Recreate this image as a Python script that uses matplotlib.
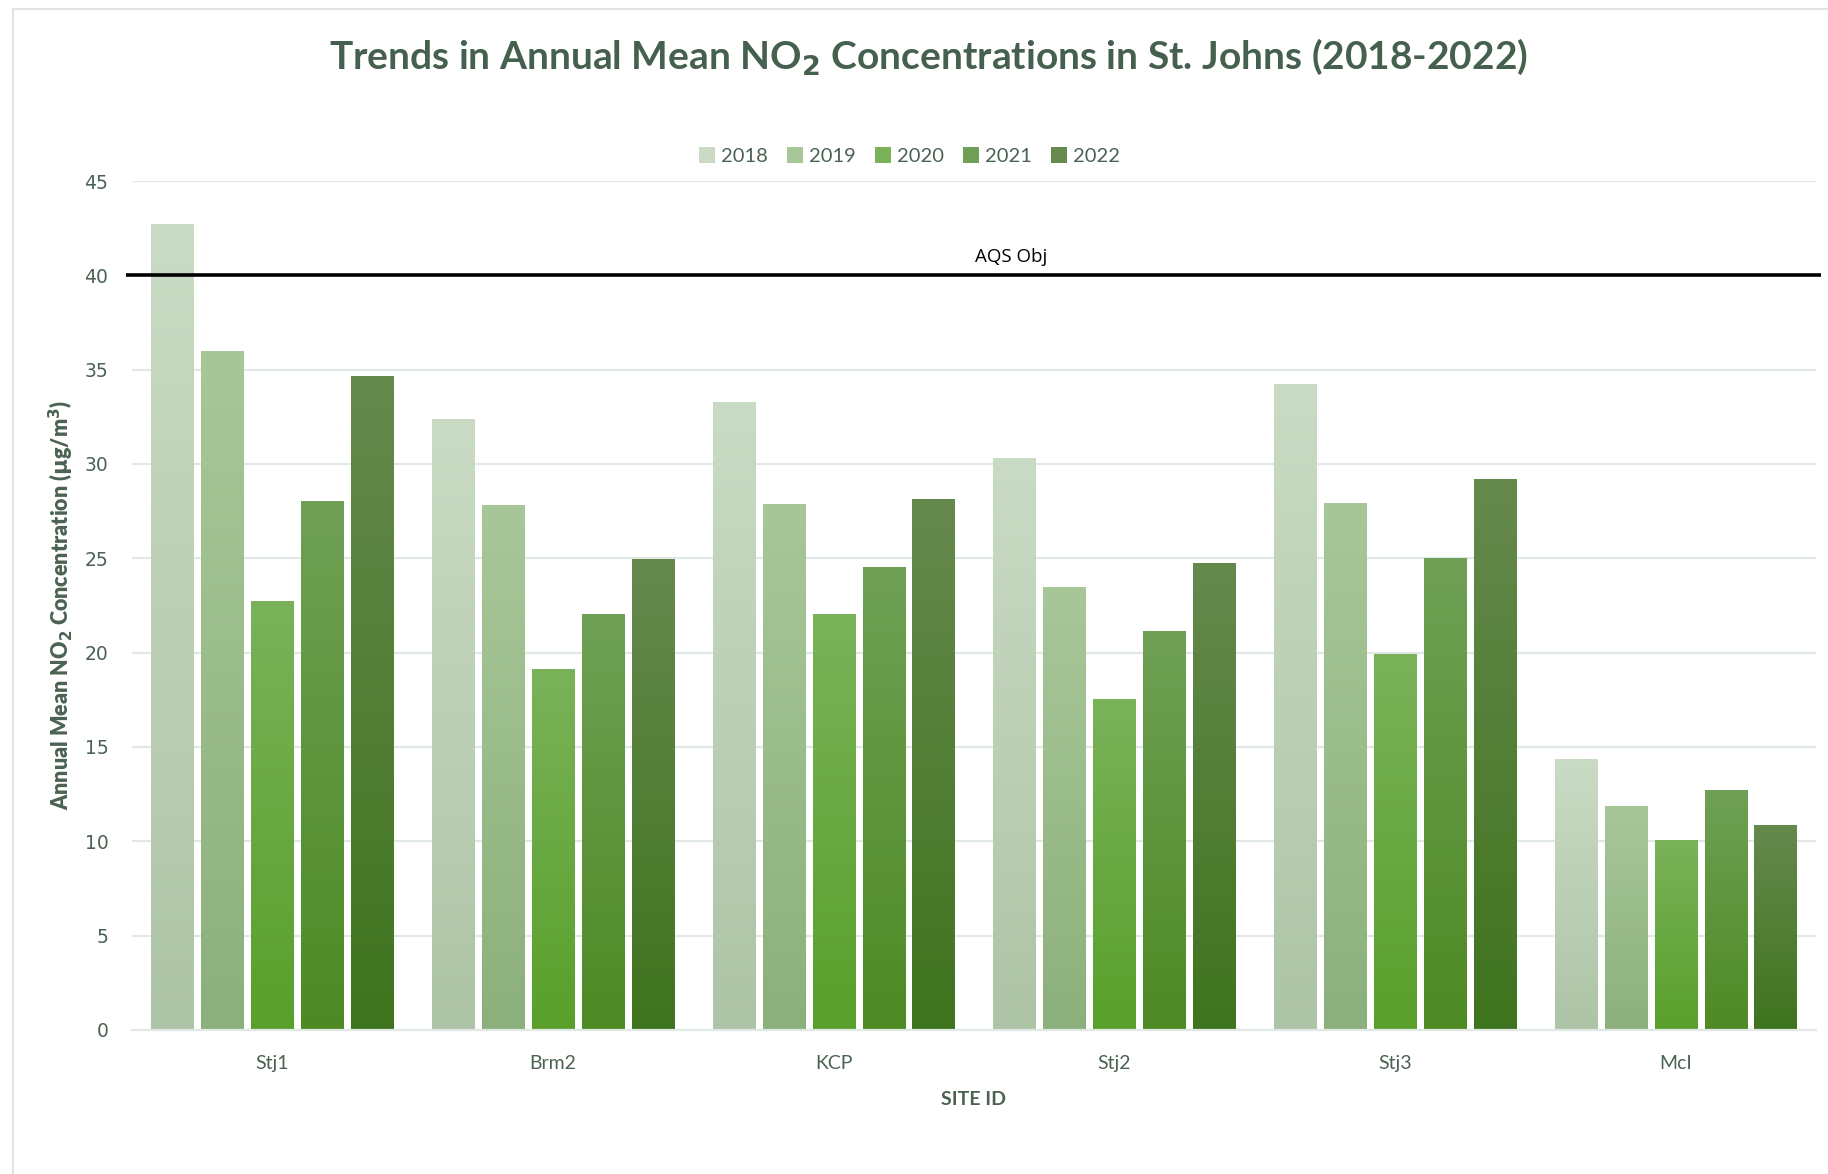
import numpy as np
import matplotlib.pyplot as plt
from matplotlib.colors import LinearSegmentedColormap
from matplotlib.lines import Line2D
from matplotlib.patches import Patch

##==============================================================================
# annual mean NO2 per site, ug/m3
sites = ['Stj1', 'Brm2', 'KCP', 'Stj2', 'Stj3', 'McI']
years = ['2018', '2019', '2020', '2021', '2022']
no2_2018 = [42.70, 32.40, 33.27, 30.29, 34.22, 14.35]
no2_2019 = [35.97, 27.81, 27.86, 23.46, 27.91, 11.85]
no2_2020 = [22.72, 19.12, 22.04, 17.53, 19.93, 10.09]
no2_2021 = [28.02, 22.04, 24.52, 21.13, 25.00, 12.70]
no2_2022 = [34.65, 24.95, 28.12, 24.73, 29.19, 10.84]
aqs_obj = 40

series = [no2_2018, no2_2019, no2_2020, no2_2021, no2_2022]
top_cols = ['#c9dbc4', '#a8c799', '#7ab259', '#6fa055', '#66894e']
bot_cols = ['#aec4a6', '#8cb07b', '#59a02b', '#4e8a24', '#3f741e']
txt = '#4b6252'
grid = '#e2e8e6'

##==============================================================================
plt.rcParams['font.family'] = ['Lato', 'DejaVu Sans']
fig = plt.figure(figsize=(18.28, 11.74), dpi=100)
ax = fig.add_axes([0.0722, 0.1228, 0.9212, 0.7230])

x = np.arange(len(sites))
w = 0.15
step = 0.178
grad = np.linspace(1, 0, 256).reshape(-1, 1)

for i, vals in enumerate(series):
    cmap = LinearSegmentedColormap.from_list('g%d' % i, [bot_cols[i], top_cols[i]])
    bars = ax.bar(x + (i - 2) * step, vals, width=w, color=top_cols[i],
                  edgecolor='none', zorder=2)
    for b in bars:
        x0, y0 = b.get_x(), b.get_y()
        im = ax.imshow(grad, cmap=cmap, aspect='auto', zorder=2.1,
                       extent=[x0, x0 + b.get_width(), y0, y0 + b.get_height()],
                       origin='upper', vmin=0, vmax=1)
        im.set_clip_path(b)

# air quality objective line
ax.plot([-0.521, 5.517], [aqs_obj, aqs_obj], color='black', lw=2.6,
        zorder=3, clip_on=False, solid_capstyle='butt')
ax.text(2.631, aqs_obj + 0.95, 'AQS Obj', ha='center', va='center',
        fontsize=13.5, color='black', family=['Open Sans', 'DejaVu Sans'])

ax.set_xlim(-0.5, 5.5)
ax.set_ylim(0, 45)
ax.set_yticks(range(0, 46, 5))
ax.set_xticks(x)
ax.set_xticklabels(sites)
ax.yaxis.grid(True, color=grid, lw=1.6, zorder=0)
ax.set_axisbelow(True)
for s in ['top', 'right', 'left']:
    ax.spines[s].set_visible(False)
ax.spines['bottom'].set_color(grid)
ax.spines['bottom'].set_linewidth(1.6)
ax.tick_params(axis='both', length=0, colors=txt)
ax.tick_params(axis='x', labelsize=14, pad=18)
ax.tick_params(axis='y', pad=17)
for lab in ax.get_yticklabels():
    lab.set_family('DejaVu Sans')
    lab.set_fontsize(13.5)

ax.set_xlabel('SITE ID', fontsize=14, fontweight='bold', color=txt, labelpad=14)
ax.set_ylabel(r'Annual Mean NO$_\mathbf{2}$ Concentration ($\mathbf{\mu}$g/m$^\mathbf{3}$)',
              fontsize=15.5, fontweight='heavy', color=txt, labelpad=6)

fig.text(0.5077, 0.952, r'Trends in Annual Mean NO$_\mathbf{2}$ Concentrations in St. Johns (2018-2022)',
         ha='center', va='center', fontsize=28, fontweight='bold', color='#46604f')

handles = [Patch(facecolor=top_cols[i], edgecolor='none') for i in range(5)]
fig.legend(handles, years, loc='center', bbox_to_anchor=(0.4975, 0.867), ncol=5,
           frameon=False, fontsize=14.5, handlelength=0.8, handleheight=0.8,
           handletextpad=0.3, columnspacing=0.95, labelcolor=txt)

# outer chart border (left and top edges)
fig.add_artist(Line2D([13 / 1828, 13 / 1828], [0, 1 - 9 / 1174], color='#dfe3e1', lw=1.5))
fig.add_artist(Line2D([13 / 1828, 1], [1 - 9 / 1174, 1 - 9 / 1174], color='#dfe3e1', lw=1.5))

plt.savefig('out.png', dpi=100, facecolor='white')
